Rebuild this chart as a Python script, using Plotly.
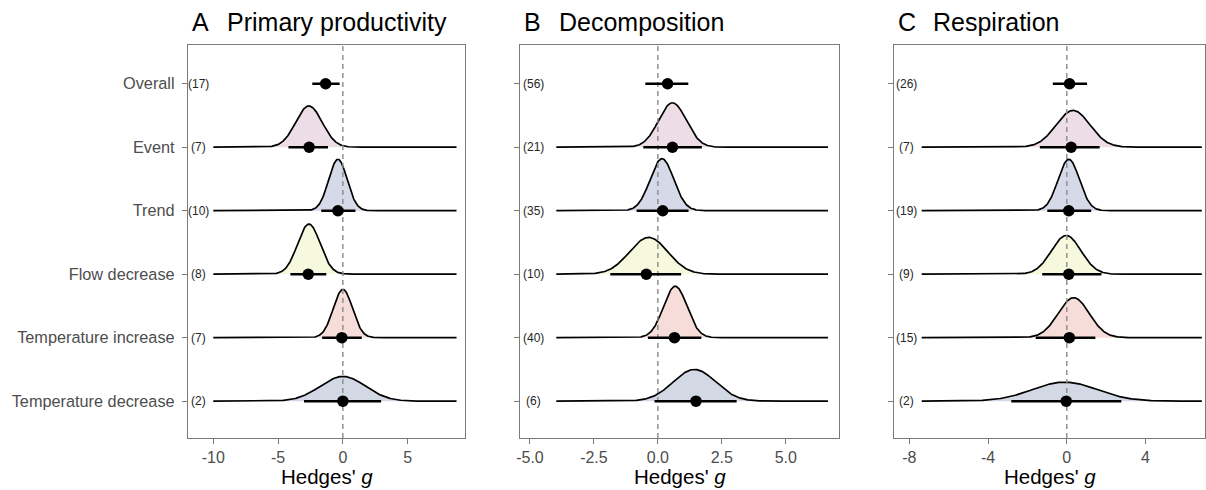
import numpy as np
import plotly.graph_objects as go

# ---------------- data ----------------
rows = ["Overall", "Event", "Trend", "Flow decrease",
        "Temperature increase", "Temperature decrease"]
row_pos = [6, 5, 4, 3, 2, 1]

panel_titles = ["Primary productivity", "Decomposition", "Respiration"]
panel_letters = ["A", "B", "C"]

n_A = [17, 7, 10, 8, 7, 2]
n_B = [56, 21, 35, 10, 40, 6]
n_C = [26, 7, 19, 9, 15, 2]

est_A = [-1.33, -2.60, -0.38, -2.67, -0.08, 0.00]
lo_A = [-2.36, -4.20, -1.67, -4.05, -1.60, -3.00]
hi_A = [-0.25, -1.15, 0.97, -1.28, 1.46, 2.95]

est_B = [0.38, 0.57, 0.19, -0.45, 0.65, 1.49]
lo_B = [-0.49, -0.57, -0.83, -1.86, -0.39, -0.13]
hi_B = [1.19, 1.72, 1.20, 0.91, 1.70, 3.08]

est_C = [0.14, 0.22, 0.10, 0.10, 0.13, -0.03]
lo_C = [-0.71, -1.37, -0.99, -1.25, -1.58, -2.82]
hi_C = [1.03, 1.67, 1.24, 1.76, 1.45, 2.77]

# density ridges (rows Event .. Temperature decrease): centre, spread, peak height
dens_center_A = [-2.62, -0.38, -2.62, 0.00, 0.00]
dens_sd_A = [1.02, 0.71, 0.87, 0.74, 1.74]
dens_h_A = [0.65, 0.81, 0.79, 0.76, 0.39]

dens_center_B = [0.57, 0.16, -0.36, 0.68, 1.43]
dens_sd_B = [0.54, 0.46, 0.75, 0.46, 0.83]
dens_h_B = [0.70, 0.82, 0.58, 0.81, 0.50]

dens_center_C = [0.32, 0.10, -0.03, 0.35, -0.10]
dens_sd_C = [0.86, 0.54, 0.75, 0.79, 1.65]
dens_h_C = [0.58, 0.81, 0.61, 0.63, 0.30]

ridge_range_A = [-10.0, 8.77]
ridge_range_B = [-3.97, 6.65]
ridge_range_C = [-7.37, 6.86]

x_ticks_A = [-10, -5, 0, 5]
x_ticklabels_A = ["-10", "-5", "0", "5"]
x_ticks_B = [-5, -2.5, 0, 2.5, 5]
x_ticklabels_B = ["-5.0", "-2.5", "0.0", "2.5", "5.0"]
x_ticks_C = [-8, -4, 0, 4]
x_ticklabels_C = ["-8", "-4", "0", "4"]

fill_colors = ["#ecdde6", "#d6dae8", "#f6f9dd", "#f6ddd9", "#d2d8e4"]

# ---------------- layout constants ----------------
W, H = 1206, 490
FONT = "Liberation Sans, Arial, Helvetica, sans-serif"
x_ranges = [[-11.92, 9.46], [-5.39, 7.09], [-8.76, 7.02]]
x_domains = [[185 / W, 463 / W], [517.7 / W, 838 / W], [893.3 / W, 1205 / W]]
y_range = [0.42, 6.61]
y_domain = [1 - 438 / H, 1 - 45 / H]
n_label_x = [-11.15, -4.85, -8.12]

panels = [
    (n_A, est_A, lo_A, hi_A, dens_center_A, dens_sd_A, dens_h_A, ridge_range_A,
     x_ticks_A, x_ticklabels_A),
    (n_B, est_B, lo_B, hi_B, dens_center_B, dens_sd_B, dens_h_B, ridge_range_B,
     x_ticks_B, x_ticklabels_B),
    (n_C, est_C, lo_C, hi_C, dens_center_C, dens_sd_C, dens_h_C, ridge_range_C,
     x_ticks_C, x_ticklabels_C),
]

fig = go.Figure()
annotations = []
layout_axes = {}

for p, (n, est, lo, hi, dc, dsd, dh, rr, xt, xtl) in enumerate(panels):
    sfx = "" if p == 0 else str(p + 1)
    xa, ya = "x" + sfx, "y" + sfx
    grid = np.linspace(rr[0], rr[1], 600)

    for i in range(5):
        base = row_pos[i + 1]
        yy = base + dh[i] * np.exp(-0.5 * ((grid - dc[i]) / dsd[i]) ** 2)
        fig.add_trace(go.Scatter(
            x=np.concatenate([grid, grid[::-1]]),
            y=np.concatenate([yy, np.full_like(grid, base)]),
            fill="toself", fillcolor=fill_colors[i], line=dict(width=0),
            mode="lines", hoverinfo="skip", showlegend=False, xaxis=xa, yaxis=ya))
        fig.add_trace(go.Scatter(
            x=grid, y=yy, mode="lines", line=dict(color="black", width=1.7),
            hoverinfo="skip", showlegend=False, xaxis=xa, yaxis=ya))

    # zero reference line
    fig.add_trace(go.Scatter(
        x=[0, 0], y=y_range, mode="lines",
        line=dict(color="#8a8a8a", width=1.4, dash="5px,4px"),
        hoverinfo="skip", showlegend=False, xaxis=xa, yaxis=ya))

    # intervals
    for i in range(6):
        fig.add_trace(go.Scatter(
            x=[lo[i], hi[i]], y=[row_pos[i], row_pos[i]], mode="lines",
            line=dict(color="black", width=2.4),
            hoverinfo="skip", showlegend=False, xaxis=xa, yaxis=ya))
    # points
    fig.add_trace(go.Scatter(
        x=est, y=row_pos, mode="markers",
        marker=dict(color="black", size=11.5, line=dict(width=0)),
        showlegend=False, xaxis=xa, yaxis=ya))

    # n labels
    for i in range(6):
        annotations.append(dict(
            x=n_label_x[p], y=row_pos[i], xref=xa, yref=ya, text=f"({n[i]})",
            showarrow=False, xanchor="center", yanchor="middle",
            font=dict(family=FONT, size=12, color="#262626")))

    # titles
    x0_px = x_domains[p][0] * W
    annotations.append(dict(
        x=(x0_px + 2) / W, y=1 - 22 / H, xref="paper", yref="paper",
        text=panel_letters[p], showarrow=False, xanchor="left", yanchor="middle",
        font=dict(family=FONT, size=25, color="black")))
    annotations.append(dict(
        x=(x0_px + 37) / W, y=1 - 22 / H, xref="paper", yref="paper",
        text=panel_titles[p], showarrow=False, xanchor="left", yanchor="middle",
        font=dict(family=FONT, size=25, color="black")))
    # x axis title
    annotations.append(dict(
        x=sum(x_domains[p]) / 2, y=1 - 476 / H, xref="paper", yref="paper",
        text="Hedges' <i>g</i>", showarrow=False, xanchor="center", yanchor="middle",
        font=dict(family=FONT, size=20.5, color="black")))

    axis_common = dict(showline=True, mirror=True, linecolor="#7a7a7a", linewidth=1,
                       showgrid=False, zeroline=False, ticks="outside", ticklen=5,
                       tickcolor="#7a7a7a", tickwidth=1)
    layout_axes["xaxis" + sfx] = dict(
        domain=x_domains[p], range=x_ranges[p], anchor=ya,
        tickvals=xt, ticktext=xtl,
        tickfont=dict(family=FONT, size=16, color="#4d4d4d"), **axis_common)
    layout_axes["yaxis" + sfx] = dict(
        domain=y_domain, range=y_range, anchor=xa,
        tickvals=row_pos,
        ticktext=[r + "\u00a0" for r in rows] if p == 0 else [""] * 6,
        showticklabels=(p == 0),
        tickfont=dict(family=FONT, size=16.3, color="#4d4d4d"), **axis_common)

fig.update_layout(
    width=W, height=H, margin=dict(l=0, r=0, t=0, b=0),
    paper_bgcolor="white", plot_bgcolor="white",
    showlegend=False, annotations=annotations, **layout_axes)

fig.write_html("out.html", config={"displayModeBar": False},
               post_script="document.body.style.margin='0';"
                           "document.body.style.overflow='hidden';")
